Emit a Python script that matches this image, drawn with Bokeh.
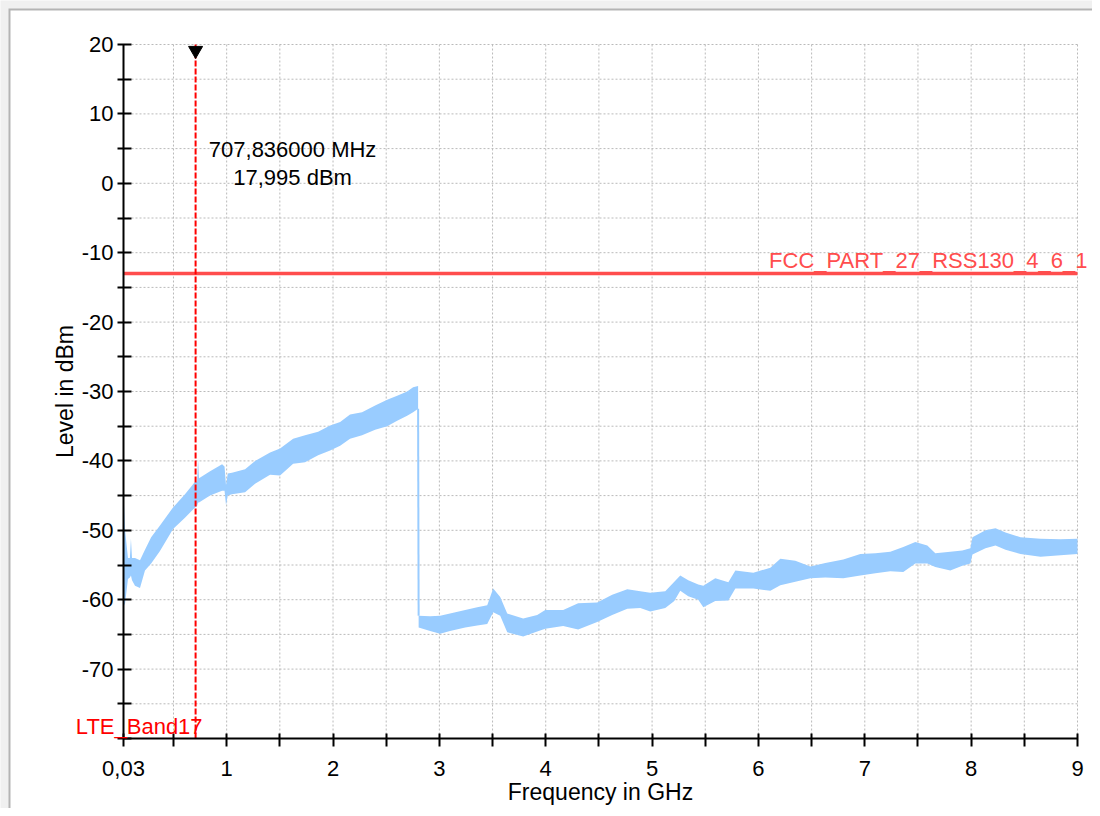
from bokeh.plotting import figure
from bokeh.models import Range1d, FixedTicker, Label, LinearAxis, BoxAnnotation
from bokeh.embed import file_html
from bokeh.resources import INLINE

# ---- data (GHz / dBm) ----
# trace below 2.8 GHz: upper / lower envelope of the noisy band
freq_low = [0.030, 0.045, 0.072, 0.090, 0.100, 0.110, 0.138, 0.185, 0.232, 0.290, 0.373,
            0.496, 0.608, 0.703, 0.722, 0.731, 0.740, 0.844, 0.957, 0.980, 0.994, 1.010,
            1.050, 1.173, 1.267, 1.408, 1.502, 1.625, 1.737, 1.860, 1.973, 2.067, 2.160,
            2.273, 2.396, 2.509, 2.603, 2.697, 2.753, 2.800]
top_low = [-44.5, -50.0, -54.0, -54.0, -51.2, -54.0, -54.0, -54.3, -52.8, -51.0, -49.3,
           -46.7, -44.8, -43.0, -43.0, -39.7, -42.5, -41.5, -40.5, -40.8, -43.5, -41.8,
           -41.7, -41.2, -40.0, -38.8, -38.2, -36.8, -36.3, -35.8, -34.9, -34.4, -33.3,
           -33.0, -32.0, -31.2, -30.6, -30.0, -29.4, -29.2]
bot_low = [-61.0, -60.5, -57.0, -56.8, -56.5, -57.2, -58.0, -58.3, -55.8, -54.8, -53.0,
           -49.8, -48.2, -46.7, -46.5, -46.0, -46.0, -45.0, -44.3, -44.3, -46.4, -45.0,
           -44.8, -44.5, -43.3, -42.0, -42.1, -40.4, -40.2, -39.2, -38.5, -37.8, -36.8,
           -36.3, -35.5, -35.0, -34.2, -33.5, -33.0, -32.5]

# trace above 2.8 GHz
freq_high = [2.805, 2.913, 3.007, 3.100, 3.243, 3.356, 3.450, 3.506, 3.572, 3.638, 3.788,
             3.920, 3.995, 4.164, 4.305, 4.484, 4.625, 4.767, 4.889, 4.983, 5.124, 5.209,
             5.265, 5.340, 5.434, 5.482, 5.594, 5.717, 5.783, 5.952, 6.112, 6.206, 6.347,
             6.488, 6.629, 6.798, 6.958, 7.100, 7.240, 7.362, 7.475, 7.588, 7.663, 7.804,
             7.917, 7.993, 8.012, 8.135, 8.229, 8.323, 8.464, 8.652, 8.840, 9.000]
top_high = [-62.3, -62.4, -62.3, -62.0, -61.5, -61.1, -60.8, -58.4, -59.6, -62.0, -62.7,
            -62.2, -61.5, -61.5, -60.5, -60.4, -59.3, -58.5, -58.8, -59.0, -58.8, -57.4,
            -56.5, -57.2, -57.8, -58.0, -56.9, -57.5, -55.8, -56.1, -55.4, -54.1, -54.4,
            -55.2, -54.7, -54.2, -53.4, -53.3, -53.1, -52.4, -51.7, -52.2, -53.3, -53.1,
            -52.9, -52.6, -51.0, -50.0, -49.7, -50.3, -51.0, -51.2, -51.3, -51.2]
bot_high = [-64.0, -64.5, -64.9, -64.5, -64.0, -63.7, -63.5, -61.8, -62.3, -64.7, -65.3,
            -64.6, -64.2, -63.8, -64.3, -63.2, -62.2, -61.3, -61.2, -61.7, -61.2, -60.2,
            -58.7, -59.5, -60.0, -61.1, -60.2, -60.1, -58.4, -58.4, -58.7, -57.9, -57.4,
            -56.9, -56.8, -56.9, -56.5, -56.2, -55.9, -56.0, -54.8, -54.8, -55.3, -55.8,
            -55.1, -54.8, -53.5, -52.6, -52.2, -52.8, -53.4, -53.8, -53.6, -53.4]

limit_name = "FCC_PART_27_RSS130_4_6_1"
limit_level = -13.0

marker_name = "LTE_Band17"
marker_freq_mhz = 707.836
marker_level = 17.995

x_lo, x_hi = 0.03, 9.0
y_lo, y_hi = -80.0, 20.0
x_major = [0.03, 1, 2, 3, 4, 5, 6, 7, 8, 9]
x_major_labels = ["0,03", "1", "2", "3", "4", "5", "6", "7", "8", "9"]
x_minor = [0.5, 1.5, 2.5, 3.5, 4.5, 5.5, 6.5, 7.5, 8.5]
y_major = [-70, -60, -50, -40, -30, -20, -10, 0, 10, 20]
y_major_labels = ["-70", "-60", "-50", "-40", "-30", "-20", "-10", "0", "10", "20"]
y_minor = [-80, -75, -65, -55, -45, -35, -25, -15, -5, 5, 15]

# ---- layout (pixels) ----
W, H = 1092, 808
FL, FT, FR, FB = 123, 44, 1077, 738      # plot area inside the canvas
FONT = "Liberation Sans"
TRACE = "#99ccff"
GRID = "#bababa"

gx = (x_hi - x_lo) / (FR - FL)
gy = (y_hi - y_lo) / (FB - FT)
xr = Range1d(x_lo - FL * gx, x_hi + (W - FR) * gx)
yr = Range1d(y_lo - (H - FB) * gy, y_hi + FT * gy)

p = figure(width=W, height=H, x_range=xr, y_range=yr, x_axis_type=None, y_axis_type=None,
           output_backend="svg", toolbar_location=None, min_border=0)
p.outline_line_color = None
p.background_fill_color = "#f0f0f0"
p.border_fill_color = "#f0f0f0"

# window panel: grey edge on top/left, white inside
p.add_layout(BoxAnnotation(left=xr.start + 8 * gx, top=yr.end - 8 * gy,
                           fill_color="#b4b4b4", fill_alpha=1.0, line_color=None,
                           level="underlay"))
p.add_layout(BoxAnnotation(left=xr.start + 10 * gx, top=yr.end - 10 * gy,
                           fill_color="white", fill_alpha=1.0, line_color=None,
                           level="underlay"))

# grid (dotted), kept inside the plot area
vx = [v for v in sorted(x_major + x_minor) if v != x_lo]
hy = [v for v in sorted(y_major + y_minor) if v != y_lo]
p.segment(x0=vx, y0=[y_lo] * len(vx), x1=vx, y1=[y_hi] * len(vx),
          line_color=GRID, line_dash="2 2", line_width=1)
p.segment(x0=[x_lo] * len(hy), y0=hy, x1=[x_hi] * len(hy), y1=hy,
          line_color=GRID, line_dash="2 2", line_width=1)

# axes
xt = FixedTicker(ticks=x_major, minor_ticks=x_minor)
yt = FixedTicker(ticks=y_major, minor_ticks=y_minor)
xaxis = LinearAxis(ticker=xt, fixed_location=y_lo, bounds=(x_lo, x_hi),
                   axis_label="Frequency in GHz",
                   major_label_overrides={v: s for v, s in zip(x_major, x_major_labels)})
yaxis = LinearAxis(ticker=yt, fixed_location=x_lo, bounds=(y_lo, y_hi),
                   axis_label="Level in dBm",
                   major_label_overrides={v: s for v, s in zip(y_major, y_major_labels)})
for ax in (xaxis, yaxis):
    ax.axis_line_color = "black"
    ax.axis_line_width = 2
    ax.major_tick_line_color = "black"
    ax.minor_tick_line_color = "black"
    ax.major_tick_line_width = 2
    ax.minor_tick_line_width = 2
    ax.major_label_text_font = FONT
    ax.major_label_text_font_size = "22px"
    ax.major_label_text_color = "black"
    ax.axis_label_text_font = FONT
    ax.axis_label_text_font_size = "23px"
    ax.axis_label_text_font_style = "normal"
    ax.axis_label_text_color = "black"

yaxis.major_tick_in = 8
yaxis.major_tick_out = 6
yaxis.minor_tick_in = 8
yaxis.minor_tick_out = 6
yaxis.major_label_standoff = 4
yaxis.axis_label_standoff = 1

xaxis.major_tick_in = 5
xaxis.major_tick_out = 8
xaxis.minor_tick_in = 5
xaxis.minor_tick_out = 8
xaxis.major_label_standoff = 14
xaxis.axis_label_standoff = 0

p.add_layout(xaxis, "below")
p.add_layout(yaxis, "left")

# trace
p.varea(x=freq_low, y1=bot_low, y2=top_low, fill_color=TRACE)
p.varea(x=freq_high, y1=bot_high, y2=top_high, fill_color=TRACE)
p.segment(x0=[freq_low[-1]], y0=[bot_low[-1]], x1=[freq_high[0]], y1=[top_high[0]],
          line_color=TRACE, line_width=2)

# limit line
p.segment(x0=[x_lo], y0=[limit_level], x1=[x_hi], y1=[limit_level],
          line_color="#ff4d4d", line_width=3.5)
p.add_layout(Label(x=x_hi, y=limit_level, x_offset=10, y_offset=13, text=limit_name,
                   text_align="right", text_baseline="alphabetic", text_color="#ff4d4d",
                   text_font=FONT, text_font_size="22px"))

# marker
mx = marker_freq_mhz / 1000.0
p.segment(x0=[mx], y0=[y_lo], x1=[mx], y1=[y_hi], line_color="red", line_width=2,
          line_dash="6 2")
p.scatter(x=[mx], y=[marker_level + 1.15], marker="inverted_triangle", size=14,
          fill_color="black", line_color="black")
txt1 = f"{marker_freq_mhz:.6f}".replace(".", ",") + " MHz"
txt2 = f"{marker_level:.3f}".replace(".", ",") + " dBm"
p.add_layout(Label(x=mx, y=marker_level, x_offset=97, y_offset=-91, text=txt1,
                   text_align="center", text_baseline="alphabetic", text_color="black",
                   text_font=FONT, text_font_size="22px"))
p.add_layout(Label(x=mx, y=marker_level, x_offset=97, y_offset=-119, text=txt2,
                   text_align="center", text_baseline="alphabetic", text_color="black",
                   text_font=FONT, text_font_size="22px"))
p.add_layout(Label(x=mx, y=y_lo, x_offset=7, y_offset=12, text=marker_name,
                   text_align="right", text_baseline="alphabetic", text_color="red",
                   text_font=FONT, text_font_size="22px"))

open("out.html", "w").write(file_html(p, INLINE))
